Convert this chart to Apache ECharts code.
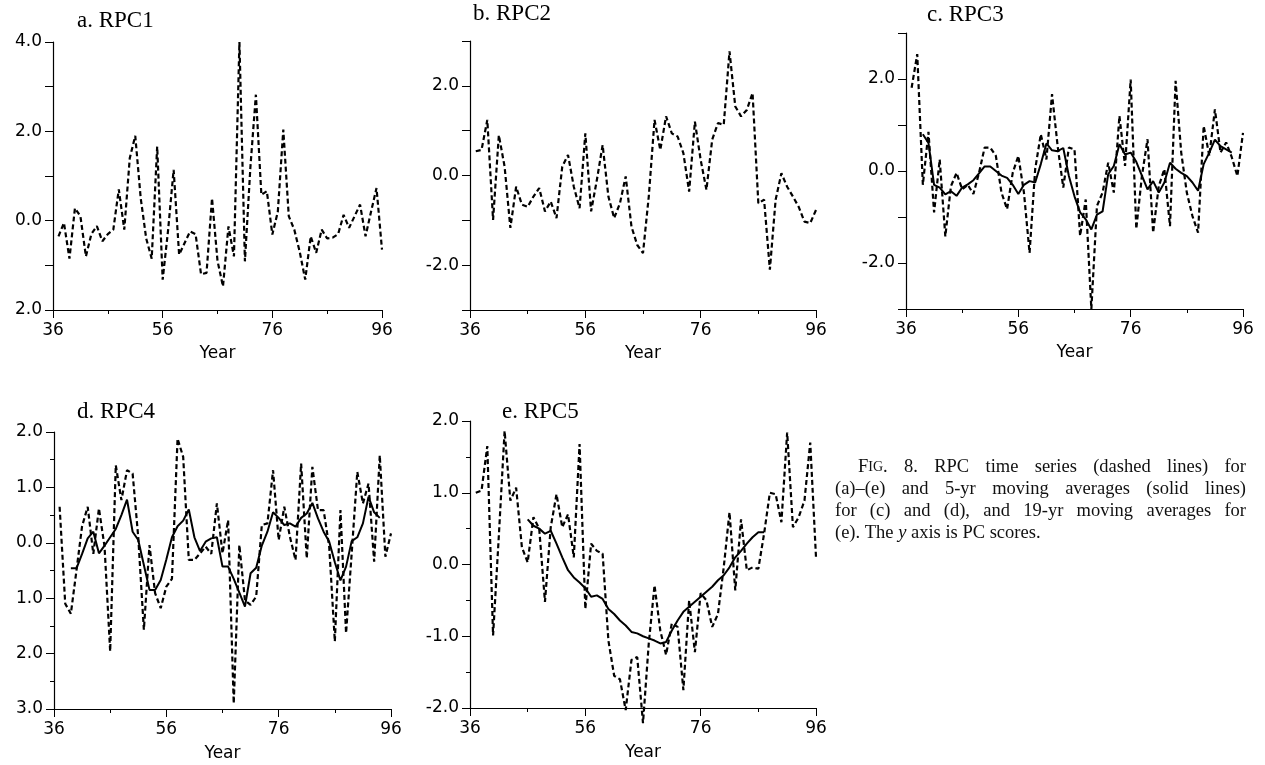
<!DOCTYPE html>
<html>
<head>
<meta charset="utf-8">
<title>RPC time series</title>
<script src="https://cdn.jsdelivr.net/npm/echarts@6/dist/echarts.min.js"></script>
<style>
  html, body { margin: 0; background: #fff; }
  #chart { width: 1265px; height: 765px; }
</style>
</head>
<body>
<div id="chart"></div>
<script>
// years are two-digit (19xx); x axis is drawn as offset from 36
const firstYear = 37;
const rpc1 = [-0.35, -0.05, -0.85, 0.28, 0.1, -0.8, -0.3, -0.12, -0.46, -0.3, -0.2, 0.7, -0.2, 1.4, 1.9, 0.5, -0.4, -0.85, 1.66, -1.32,
  -0.2, 1.14, -0.76, -0.5, -0.24, -0.3, -1.2, -1.17, 0.5, -0.9, -1.47, -0.13, -0.8, 4.0, -0.91, 1.2, 2.82, 0.58, 0.66, -0.31,
  0.2, 2.04, 0.1, -0.2, -0.7, -1.32, -0.35, -0.72, -0.2, -0.4, -0.38, -0.3, 0.13, -0.16, 0.1, 0.36, -0.35, 0.2, 0.73, -0.65];
const rpc2 = [0.54, 0.57, 1.24, -0.99, 0.9, 0.2, -1.17, -0.25, -0.65, -0.7, -0.47, -0.28, -0.8, -0.58, -0.95, 0.2, 0.46, -0.25, -0.73, 0.94,
  -0.8, -0.1, 0.68, -0.47, -0.95, -0.62, -0.02, -1.14, -1.55, -1.73, -0.47, 1.24, 0.57, 1.32, 0.94, 0.87, 0.5, -0.36, 1.2, 0.35,
  -0.32, 0.8, 1.17, 1.13, 2.77, 1.54, 1.32, 1.46, 1.84, -0.62, -0.54, -2.1, -0.54, 0.05, -0.25, -0.47, -0.7, -1.03, -1.06, -0.77];
const rpc3 = [1.81, 2.54, -0.3, 0.85, -0.9, 0.25, -1.42, -0.33, -0.04, -0.4, -0.3, -0.5, -0.04, 0.51, 0.51, 0.33, -0.47, -0.83, -0.04, 0.33,
  -0.47, -1.78, 0.04, 0.8, 0.25, 1.67, 0.54, -0.36, 0.51, 0.47, -1.41, -0.62, -3.0, -0.76, -0.47, 0.18, -0.47, 1.2, 0.11, 1.99,
  -1.26, -0.11, 0.69, -1.34, -0.33, 0.04, -1.2, 1.96, 0.4, -0.47, -0.98, -1.34, 0.98, 0.33, 1.34, 0.4, 0.62, 0.3, -0.11, 0.83];
const rpc4 = [0.65, -1.1, -1.28, -0.5, 0.3, 0.65, -0.2, 0.62, -0.07, -1.96, 1.4, 0.77, 1.31, 1.25, 0.1, -1.57, -0.04, -0.91, -1.18, -0.79,
  -0.65, 1.88, 1.55, -0.31, -0.31, -0.19, -0.07, -0.2, 0.71, -0.19, 0.41, -2.9, -0.04, -1.04, -1.12, -0.97, 0.32, 0.35, 1.31, 0.05,
  0.65, 0.11, -0.31, 1.43, -0.28, 1.37, 0.59, 0.59, -0.07, -1.78, 0.59, -1.63, -0.19, 1.28, 0.71, 1.07, -0.34, 1.58, -0.25, 0.17];
const rpc5 = [1.0, 1.03, 1.65, -0.99, 0.4, 1.86, 0.89, 1.07, 0.24, 0.03, 0.66, 0.5, -0.52, 0.52, 0.98, 0.52, 0.7, 0.1, 1.68, -0.62,
  0.29, 0.19, 0.15, -1.06, -1.55, -1.6, -2.03, -1.33, -1.29, -2.21, -1.1, -0.29, -0.92, -1.26, -0.82, -0.87, -1.75, -0.5, -1.22, -0.4,
  -0.5, -0.87, -0.69, -0.04, 0.73, -0.36, 0.63, -0.08, -0.04, -0.06, 0.43, 1.0, 0.98, 0.59, 1.84, 0.52, 0.66, 0.89, 1.7, 0.1];

// 5-yr moving averages (c, d) start 1939; 19-yr moving average (e) starts 1946
const ma5Start = 39;
const rpc3Ma = [0.8, 0.61, -0.3, -0.36, -0.51, -0.44, -0.54, -0.36, -0.29, -0.2, -0.05, 0.1, 0.1, 0.0, -0.1, -0.15, -0.3, -0.5, -0.3, -0.22,
  -0.25, 0.15, 0.6, 0.45, 0.43, 0.5, -0.11, -0.55, -0.9, -1.05, -1.27, -0.95, -0.88, -0.07, 0.11, 0.58, 0.36, 0.4, 0.2, -0.1,
  -0.4, -0.22, -0.47, -0.25, 0.18, 0.05, -0.04, -0.11, -0.25, -0.43, 0.15, 0.4, 0.68, 0.54, 0.47, 0.4];
const rpc4Ma = [-0.46, -0.46, -0.2, 0.08, 0.2, -0.19, -0.05, 0.1, 0.25, 0.5, 0.78, 0.2, 0.05, -0.4, -0.85, -0.85, -0.67, -0.3, 0.1, 0.3,
  0.4, 0.6, 0.1, -0.15, 0.02, 0.08, 0.1, -0.43, -0.43, -0.65, -0.9, -1.15, -0.55, -0.45, -0.05, 0.2, 0.55, 0.45, 0.32, 0.35,
  0.29, 0.45, 0.53, 0.72, 0.44, 0.2, 0.02, -0.35, -0.68, -0.43, 0.03, 0.1, 0.35, 0.83, 0.55, 0.45];
const ma19Start = 46;
const rpc5Ma = [0.63, 0.54, 0.5, 0.43, 0.47, 0.29, 0.1, -0.08, -0.18, -0.25, -0.33, -0.45, -0.43, -0.48, -0.62, -0.69, -0.78, -0.85, -0.94, -0.96,
  -1.0, -1.03, -1.06, -1.1, -1.08, -0.92, -0.78, -0.66, -0.59, -0.52, -0.45, -0.38, -0.31, -0.22, -0.15, -0.04, 0.1, 0.19, 0.29, 0.38,
  0.45, 0.45];

const panelTitles = ['a. RPC1', 'b. RPC2', 'c. RPC3', 'd. RPC4', 'e. RPC5'];

const captionLines = [
  ['FIG.', '8.', 'RPC', 'time', 'series', '(dashed', 'lines)', 'for'],
  ['(a)\u2013(e)', 'and', '5-yr', 'moving', 'averages', '(solid', 'lines)'],
  ['for', '(c)', 'and', '(d),', 'and', '19-yr', 'moving', 'averages', 'for'],
];
const captionLast = '(e). The {i|y} axis is PC scores.';

const sans = 'DejaVu Sans';
const serif = 'Liberation Serif';
const ink = '#000';

const toPairs = (start, values) => values.map((v, i) => [start - 36 + i, v]);

const grids = [
  { left: 53, top: 42, width: 329, height: 268 },
  { left: 470, top: 41, width: 346, height: 269 },
  { left: 906, top: 33, width: 337, height: 276 },
  { left: 54, top: 432, width: 337, height: 277 },
  { left: 470, top: 421, width: 346, height: 287 },
];

const xAxes = grids.map((g, i) => ({
  type: 'value',
  gridIndex: i,
  min: 0,
  max: 60,
  interval: 20,
  name: 'Year',
  nameLocation: 'middle',
  nameGap: i < 3 ? 35 : 36,
  nameTextStyle: { fontFamily: sans, fontSize: 17, color: ink },
  axisLine: { onZero: false, lineStyle: { color: '#000', width: 1.2 } },
  axisTick: { length: 8, lineStyle: { color: '#000' } },
  minorTick: { show: true, splitNumber: 2, length: 4, lineStyle: { color: '#000' } },
  axisLabel: {
    margin: 12,
    fontFamily: sans,
    fontSize: 17,
    color: ink,
    formatter: (v) => String(v + 36),
  },
  splitLine: { show: false },
}));

// which y labels keep their minus sign (the scan lost it on a and d)
function yAxis(i, min, max, everyOther, keepMinus, minor) {
  return {
    type: 'value',
    gridIndex: i,
    min: min,
    max: max,
    interval: 1,
    axisLine: { show: true, onZero: false, lineStyle: { color: '#000', width: 1.2 } },
    axisTick: { show: true, length: 8, lineStyle: { color: '#000' } },
    minorTick: { show: minor, splitNumber: 2, length: 4, lineStyle: { color: '#000' } },
    axisLabel: {
      margin: 11,
      fontFamily: sans,
      fontSize: 17,
      color: ink,
      showMinLabel: true,
      showMaxLabel: true,
      formatter: (v) => {
        if (everyOther && Math.abs(v) % 2 === 1) return '';
        return (keepMinus ? v : Math.abs(v)).toFixed(1);
      },
    },
    splitLine: { show: false },
  };
}

const yAxes = [
  yAxis(0, -2, 4, true, false, false),
  yAxis(1, -3, 3, true, true, false),
  yAxis(2, -3, 3, true, true, false),
  yAxis(3, -3, 2, false, false, true),
  yAxis(4, -2, 2, false, true, true),
];

const dashed = { color: '#000', width: 2.2, type: [5, 3] };
const solid = { color: '#000', width: 2, type: 'solid' };

function line(i, data, style) {
  return {
    type: 'line',
    xAxisIndex: i,
    yAxisIndex: i,
    data: data,
    symbol: 'none',
    clip: false,
    lineStyle: style,
    z: style === solid ? 3 : 2,
  };
}

const series = [
  line(0, toPairs(firstYear, rpc1), dashed),
  line(1, toPairs(firstYear, rpc2), dashed),
  line(2, toPairs(firstYear, rpc3), dashed),
  line(2, toPairs(ma5Start, rpc3Ma), solid),
  line(3, toPairs(firstYear, rpc4), dashed),
  line(3, toPairs(ma5Start, rpc4Ma), solid),
  line(4, toPairs(firstYear, rpc5), dashed),
  line(4, toPairs(ma19Start, rpc5Ma), solid),
];

const titlePos = [[77, 9], [473, 2], [927, 3], [77, 400], [502, 400]];
const titles = panelTitles.map((t, i) => ({
  text: t,
  left: titlePos[i][0],
  top: titlePos[i][1],
  padding: 0,
  textStyle: { fontFamily: serif, fontSize: 23, fontWeight: 'normal', color: ink },
}));

// caption: justified lines, word by word
const capSize = 18.5;
const capSmall = 14;
const ctx = document.createElement('canvas').getContext('2d');
function measure(text, size, style) {
  ctx.font = (style || '') + ' ' + size + 'px "' + serif + '"';
  return ctx.measureText(text).width;
}
function wordWidth(w) {
  if (w === 'FIG.') return measure('F', capSize) + measure('IG', capSmall) + measure('.', capSize);
  return measure(w, capSize);
}
const capRight = 1246;
const capLeft = 835;
const capIndent = 858;
const capY = [467, 489, 511, 533];
const rich = {
  f: { fontFamily: serif, fontSize: capSize, fill: '#111' },
  s: { fontFamily: serif, fontSize: capSmall, fill: '#111' },
  i: { fontFamily: serif, fontSize: capSize, fontStyle: 'italic', fill: '#111' },
};
const graphic = [];
captionLines.forEach((words, li) => {
  const x0 = li === 0 ? capIndent : capLeft;
  const widths = words.map(wordWidth);
  const total = widths.reduce((a, b) => a + b, 0);
  const gap = (capRight - x0 - total) / (words.length - 1);
  let x = x0;
  words.forEach((w, wi) => {
    graphic.push({
      type: 'text',
      x: x,
      y: capY[li],
      style: {
        text: w === 'FIG.' ? '{f|F}{s|IG}{f|.}' : w,
        rich: rich,
        fontFamily: serif,
        fontSize: capSize,
        fill: '#111',
        verticalAlign: 'middle',
      },
    });
    x += widths[wi] + gap;
  });
});
graphic.push({
  type: 'text',
  x: capLeft,
  y: capY[3],
  style: {
    text: captionLast,
    rich: rich,
    fontFamily: serif,
    fontSize: capSize,
    fill: '#111',
    verticalAlign: 'middle',
  },
});

const myChart = echarts.init(document.getElementById('chart'));
const option = {
  backgroundColor: '#fff',
  animation: false,
  title: titles,
  grid: grids,
  xAxis: xAxes,
  yAxis: yAxes,
  series: series,
  graphic: graphic,
};
myChart.setOption(option);
window.addEventListener('resize', () => {
  myChart.resize();
});
</script>
</body>
</html>
